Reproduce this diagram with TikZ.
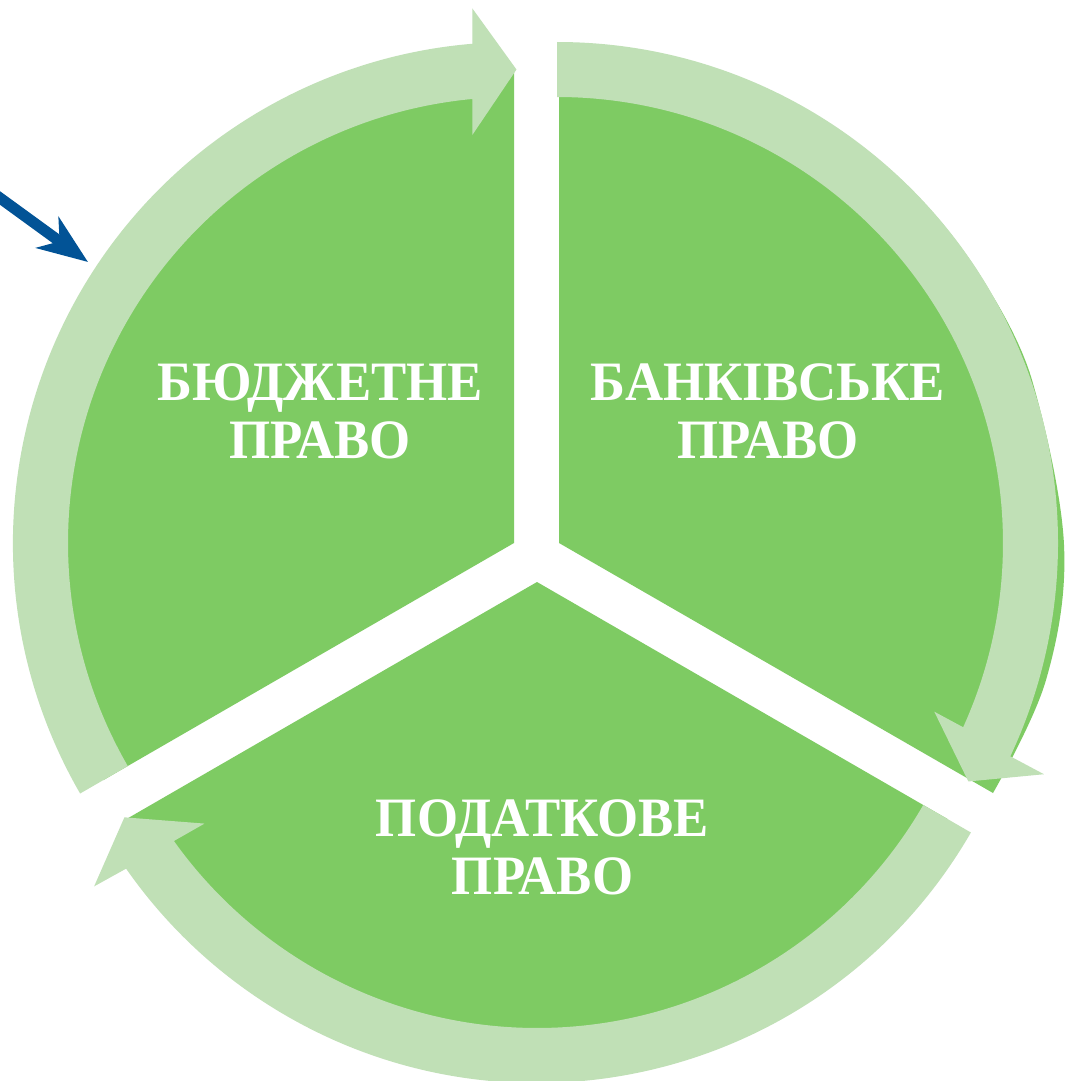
\documentclass[tikz,border=0pt]{standalone}
\usepackage{fontspec}
\setmainfont{Liberation Serif}
\usetikzlibrary{arrows.meta}
\definecolor{segGreen}{RGB}{126,203,99}
\definecolor{bandGreen}{RGB}{192,224,182}
\definecolor{pointerBlue}{RGB}{2,83,150}
\newfontfamily\labelfont[FakeStretch=0.95]{Liberation Serif}
\tikzset{
  segment/.style={fill=segGreen, draw=none},
  band/.style={fill=bandGreen, draw=none},
  seglabel/.style={text=white, align=center, inner sep=0pt,
    font=\labelfont\fontsize{55.6pt}{58pt}\selectfont\bfseries},
  pointer/.style={draw=pointerBlue, line width=11pt,
    -{Stealth[length=50pt, width=38pt, inset=15pt]}}
}
\begin{document}
\begin{tikzpicture}[x=1pt, y=1pt]
\useasboundingbox (0,0) rectangle (1066,-1081);
\clip (0,0) rectangle (1066,-1081);
\fill[white] (0,0) rectangle (1066,-1081);

% green segments
\begin{scope}[shift={(514,-543)}]
  \fill[segment] (0,0) -- (90:474) arc[start angle=90, end angle=210, radius=474] -- cycle;
\end{scope}
\begin{scope}[shift={(537,-582)}]
  \fill[segment] (0,0) -- (210:474) arc[start angle=210, end angle=330, radius=474] -- cycle;
\end{scope}
\begin{scope}[shift={(559,-543)}]
  \fill[segment] (0,0) -- (90:499) arc[start angle=90, end angle=30, radius=499]
    -- plot[smooth, tension=0.6] coordinates {(432.1,249.5) (473,163) (505,-2) (487,-137) (434,-250)}
    -- cycle;
\end{scope}

% circular arrows
\begin{scope}[shift={(514,-543)}]
  \fill[band] (210:446) -- (210:501) arc[start angle=210, end angle=94.77, radius=501]
    -- (94.46:536.3) -- (89.7:473.5) -- (95.84:410.1) -- (95.36:446)
    arc[start angle=95.36, end angle=210, radius=446] -- cycle;
\end{scope}
\begin{scope}[shift={(557,-543)}]
  \fill[band] (90:446) -- (90:501) arc[start angle=90, end angle=-25.2, radius=501]
    -- (-25.4:539.1) -- (-30.1:475.5) -- (-24.09:413.3) -- (-24.4:446)
    arc[start angle=-24.4, end angle=90, radius=446] -- cycle;
\end{scope}
\begin{scope}[shift={(537,-582)}]
  \fill[band] (330:446) -- (330:501) arc[start angle=330, end angle=214.9, radius=501]
    -- (214.5:537.4) -- (209.7:475) -- (216:411) -- (215.5:446)
    arc[start angle=215.5, end angle=330, radius=446] -- cycle;
\end{scope}

% labels
\node[seglabel] (budget) at (320,-411) {БЮДЖЕТНЕ\\ПРАВО};
\node[seglabel] (bank) at (768,-411) {БАНКІВСЬКЕ\\ПРАВО};
\node[seglabel] (tax) at (542.5,-847) {ПОДАТКОВЕ\\ПРАВО};

% blue pointer
\coordinate (ptrStart) at (-30,-176.2);
\coordinate (ptrTip) at (88,-262);
\draw[pointer] (ptrStart) -- (ptrTip);
\end{tikzpicture}
\end{document}
